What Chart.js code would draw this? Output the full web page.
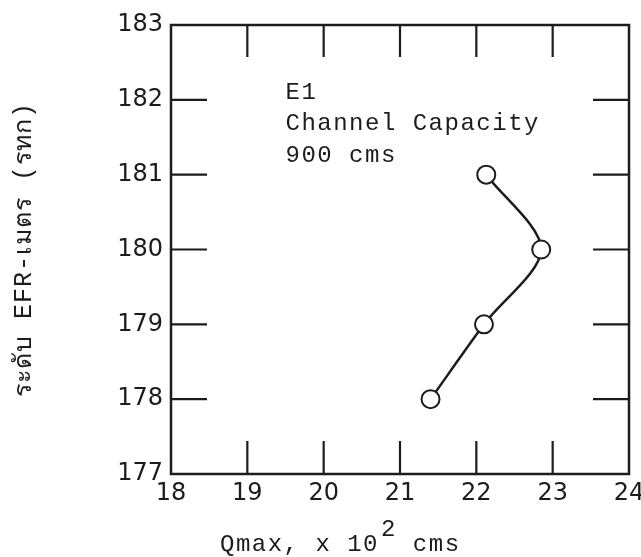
<!DOCTYPE html>
<html>
<head>
<meta charset="utf-8">
<script src="https://cdn.jsdelivr.net/npm/chart.js@4"></script>
<style>
  html, body { margin: 0; padding: 0; background: #fff; }
  #wrap { position: relative; width: 641px; height: 557px; }
</style>
</head>
<body>
<div id="wrap"><canvas id="c"></canvas></div>
<script>
// data
const qmax = [21.4, 22.1, 22.85, 22.13];      // x 10^2 cms
const efrLevel = [178, 179, 180, 181];        // m (MSL)
const xTicks = [18, 19, 20, 21, 22, 23, 24];
const yTicks = [177, 178, 179, 180, 181, 182, 183];
const noteLines = ['E1', 'Channel Capacity', '900 cms'];
const notePos = { x: 19.5, y: 182.1 };
const yTitle = 'ระดับ EFR-เมตร (รทก)';

const ink = '#1c1c1c';
const mono = '"Liberation Mono", "DejaVu Sans Mono", monospace';
const sans = '"DejaVu Sans", sans-serif';

// frame + inward ticks on all four sides, plus the note and axis titles
const paperPlugin = {
  id: 'paper',
  afterDraw(chart) {
    const { ctx, chartArea: a, scales: { x, y } } = chart;
    ctx.save();
    ctx.strokeStyle = ink;
    ctx.lineWidth = 2.5;
    ctx.strokeRect(a.left, a.top, a.right - a.left, a.bottom - a.top);
    ctx.lineWidth = 2.2;
    ctx.beginPath();
    xTicks.slice(1, -1).forEach(v => {
      const px = x.getPixelForValue(v);
      ctx.moveTo(px, a.top); ctx.lineTo(px, a.top + 32);
      ctx.moveTo(px, a.bottom); ctx.lineTo(px, a.bottom - 33);
    });
    yTicks.slice(1, -1).forEach(v => {
      const py = y.getPixelForValue(v);
      ctx.moveTo(a.left, py); ctx.lineTo(a.left + 36, py);
      ctx.moveTo(a.right, py); ctx.lineTo(a.right - 36, py);
    });
    ctx.stroke();

    // note
    ctx.fillStyle = ink;
    ctx.font = '24px ' + mono;
    ctx.letterSpacing = '1.5px';
    ctx.textBaseline = 'middle';
    ctx.textAlign = 'left';
    const nx = x.getPixelForValue(notePos.x);
    const ny = y.getPixelForValue(notePos.y);
    noteLines.forEach((t, i) => ctx.fillText(t, nx, ny + i * 31.5));

    // x title with superscript
    const tx = 220, ty = 545;
    const t1 = 'Qmax, x 10';
    ctx.fillText(t1, tx, ty);
    const w1 = ctx.measureText(t1).width;
    ctx.fillText('2', tx + w1 + 2, ty - 15);
    const w2 = ctx.measureText('2').width;
    ctx.fillText(' cms', tx + w1 + w2 + 2, ty);

    // y title, rotated
    ctx.translate(24, (a.top + a.bottom) / 2);
    ctx.rotate(-Math.PI / 2);
    ctx.textAlign = 'center';
    ctx.font = '25px ' + mono;
    ctx.letterSpacing = '1px';
    ctx.fillText(yTitle, 0, 0);
    ctx.restore();
  }
};

new Chart(document.getElementById('c'), {
  type: 'scatter',
  data: {
    datasets: [{
      data: qmax.map((q, i) => ({ x: q, y: efrLevel[i] })),
      showLine: true,
      borderColor: ink,
      borderWidth: 2.5,
      tension: 0.3,
      pointRadius: 9,
      pointBorderWidth: 2,
      pointBorderColor: ink,
      pointBackgroundColor: '#fff'
    }]
  },
  options: {
    responsive: true,
    maintainAspectRatio: false,
    animation: false,
    layout: { padding: { left: 0, right: 12, top: 25, bottom: 0 } },
    plugins: { legend: { display: false }, tooltip: { enabled: false } },
    scales: {
      x: {
        type: 'linear', min: 18, max: 24,
        afterBuildTicks: s => { s.ticks = xTicks.map(v => ({ value: v })); },
        afterFit: s => { s.height = 83; s.paddingLeft = 0; s.paddingRight = 0; },
        grid: { display: false },
        border: { display: false },
        ticks: { color: ink, font: { size: 24, family: sans }, padding: -3, maxRotation: 0 }
      },
      y: {
        type: 'linear', min: 177, max: 183,
        afterBuildTicks: s => { s.ticks = yTicks.map(v => ({ value: v })); },
        afterFit: s => { s.width = 171; },
        grid: { display: false },
        border: { display: false },
        ticks: { color: ink, font: { size: 24, family: sans }, padding: 0 }
      }
    }
  },
  plugins: [paperPlugin]
});
</script>
</body>
</html>
